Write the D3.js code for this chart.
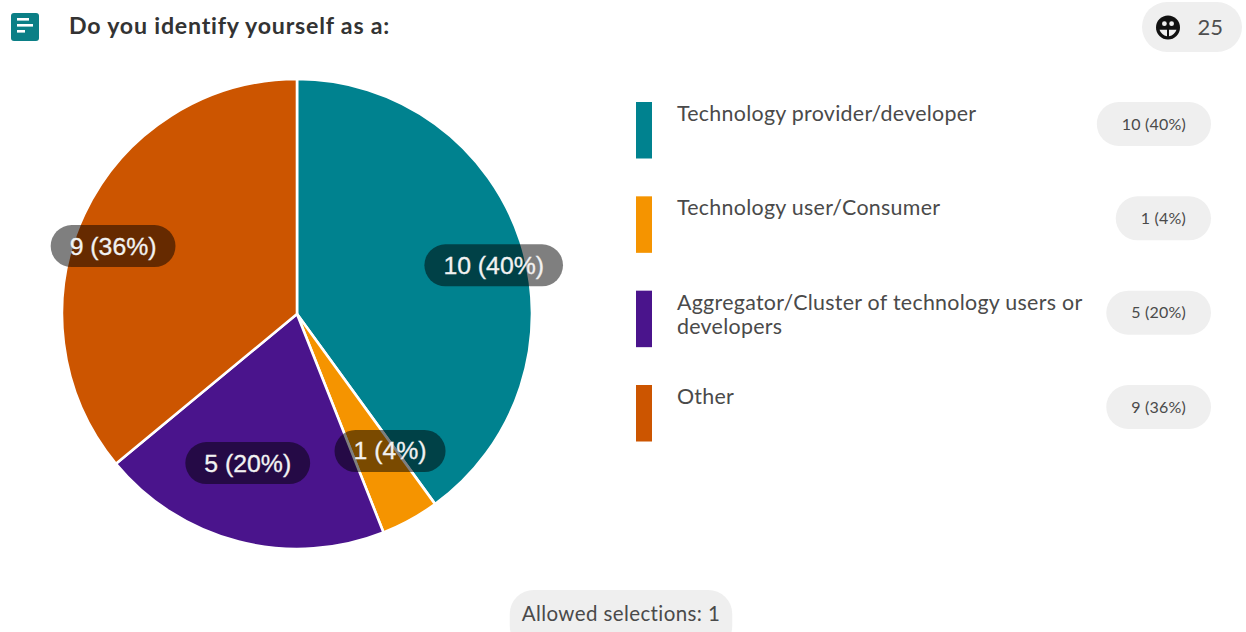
<!DOCTYPE html>
<html>
<head>
<meta charset="utf-8">
<script src="https://cdn.jsdelivr.net/npm/d3@7"></script>
<style>
  html, body { margin: 0; padding: 0; background: #fff; overflow: hidden; }
  svg { display: block; }
  text { font-family: Lato, "Open Sans", sans-serif; }
</style>
</head>
<body>
<svg id="chart" width="1246" height="632"></svg>
<script>
// Survey question and responses
const question = "Do you identify yourself as a:";
const categories = [
  "Technology provider/developer",
  "Technology user/Consumer",
  "Aggregator/Cluster of technology users or developers",
  "Other"
];
const counts = [10, 1, 5, 9];
const sliceColors = ["#00828f", "#f59400", "#4a148c", "#cc5500"];
const respondents = d3.sum(counts);
const allowedSelections = 1;

const svg = d3.select("#chart");
const color = d3.scaleOrdinal(categories, sliceColors);
const share = d3.format(".0%");
const labelFor = i => `${counts[i]} (${share(counts[i] / respondents)})`;

// Header: question icon and title
const icon = svg.append("g").attr("transform", "translate(11,13)");
icon.append("rect").attr("width", 28).attr("height", 28).attr("rx", 3).attr("fill", "#0b7f86");
[[6, 12], [12, 16], [18, 8]].forEach(([y, w]) =>
  icon.append("rect").attr("x", 6).attr("y", y - 1).attr("width", w).attr("height", 2.6).attr("fill", "#fff"));

svg.append("text").attr("x", 69).attr("y", 33.5)
  .attr("font-size", 23.2).attr("font-weight", 700).attr("fill", "#333")
  .attr("letter-spacing", 0.78)
  .text(question);

// Respondent total badge
const badge = svg.append("g");
badge.append("rect").attr("x", 1142).attr("y", 2).attr("width", 100).attr("height", 50).attr("rx", 25).attr("fill", "#efefef");
const face = badge.append("g").attr("transform", "translate(1168,27.5)");
face.append("circle").attr("r", 12).attr("fill", "#111");
face.append("circle").attr("cx", -3.6).attr("cy", -3.8).attr("r", 2.4).attr("fill", "#efefef");
face.append("circle").attr("cx", 3.6).attr("cy", -3.8).attr("r", 2.4).attr("fill", "#efefef");
face.append("path").attr("d", "M-8.5 2.2 L-1 2.2 L-1 8.8 Q-6.5 7.5 -8.5 2.2Z").attr("fill", "#efefef");
face.append("path").attr("d", "M8.5 2.2 L1 2.2 L1 8.8 Q6.5 7.5 8.5 2.2Z").attr("fill", "#efefef");
badge.append("text").attr("x", 1197.5).attr("y", 34.5)
  .attr("font-size", 22).attr("fill", "#4f4f4f").text(respondents);

// Pie
const centre = { x: 297, y: 314 };
const outerRadius = 235;
const pie = d3.pie().sort(null).value(d => d);
const slices = pie(counts);
const arc = d3.arc().innerRadius(0).outerRadius(outerRadius);
const labelArc = d3.arc().innerRadius(190).outerRadius(190);
const labelNudge = [[16, 10], [1.5, -29.5], [-2, -35], [-12, 13]];

const plot = svg.append("g").attr("transform", `translate(${centre.x},${centre.y})`);
plot.selectAll("path").data(slices).join("path")
  .attr("d", arc)
  .attr("fill", (d, i) => color(categories[i]))
  .attr("stroke", "#fff")
  .attr("stroke-width", 2.6)
  .attr("stroke-linejoin", "round");

// Value pills on the slices
const sliceLabels = plot.selectAll("g.slice-label").data(slices).join("g")
  .attr("class", "slice-label")
  .attr("transform", (d, i) => {
    const [x, y] = labelArc.centroid(d);
    return `translate(${x + labelNudge[i][0]},${y + labelNudge[i][1]})`;
  });
const sliceRects = sliceLabels.append("rect").attr("fill", "rgba(0,0,0,0.5)");
const sliceTexts = sliceLabels.append("text")
  .attr("text-anchor", "middle").attr("y", 8.5)
  .attr("font-size", 24.8).attr("fill", "#f2f2f2")
  .attr("stroke", "#f2f2f2").attr("stroke-width", 0.3)
  .style("font-family", "'Liberation Sans', Arial, sans-serif")
  .text((d, i) => labelFor(i));
sliceTexts.each(function (d, i) {
  const w = this.getComputedTextLength() + 38;
  d3.select(sliceRects.nodes()[i])
    .attr("x", -w / 2).attr("y", -21).attr("width", w).attr("height", 42).attr("rx", 21);
});

// Legend rows
const rowY = d3.scalePoint().domain(categories).range([102, 385]);
const legend = svg.selectAll("g.legend-row").data(categories).join("g")
  .attr("class", "legend-row")
  .attr("transform", d => `translate(0,${rowY(d)})`);

legend.append("rect").attr("x", 636).attr("y", 0).attr("width", 16).attr("height", 56.5)
  .attr("fill", d => color(d));

const legendText = legend.append("text").attr("x", 677).attr("y", 19)
  .attr("font-size", 21.4).attr("letter-spacing", 0.28).attr("fill", "#4a4a4a");

// Break long category names onto extra lines
legendText.each(function (d) {
  const node = d3.select(this);
  const words = d.split(" ");
  let line = [];
  let tspan = node.append("tspan").attr("x", 677).attr("dy", 0);
  words.forEach(word => {
    line.push(word);
    tspan.text(line.join(" "));
    if (tspan.node().getComputedTextLength() > 420) {
      line.pop();
      tspan.text(line.join(" "));
      line = [word];
      tspan = node.append("tspan").attr("x", 677).attr("dy", 24).text(word);
    }
  });
});

// Count pills at the right of each row
const countRight = 1211;
legend.each(function (d, i) {
  const row = d3.select(this);
  const rect = row.append("rect").attr("fill", "#efefef");
  const label = row.append("text")
    .attr("text-anchor", "end").attr("x", countRight - 25).attr("y", 27.5)
    .attr("font-size", 16).attr("letter-spacing", 0.2).attr("fill", "#4a4a4a")
    .text(labelFor(i));
  const w = label.node().getComputedTextLength() + 50;
  rect.attr("x", countRight - w).attr("y", 0).attr("width", w).attr("height", 44).attr("rx", 22);
});

// Footer note
const note = svg.append("g");
const noteRect = note.append("rect").attr("fill", "#efefef");
const noteText = note.append("text").attr("x", 621).attr("y", 621)
  .attr("text-anchor", "middle").attr("font-size", 20.5).attr("letter-spacing", 0.4).attr("fill", "#4a4a4a")
  .text(`Allowed selections: ${allowedSelections}`);
const noteWidth = noteText.node().getComputedTextLength() + 24;
noteRect.attr("x", 621 - noteWidth / 2).attr("y", 590).attr("width", noteWidth).attr("height", 60).attr("rx", 24);
</script>
</body>
</html>
